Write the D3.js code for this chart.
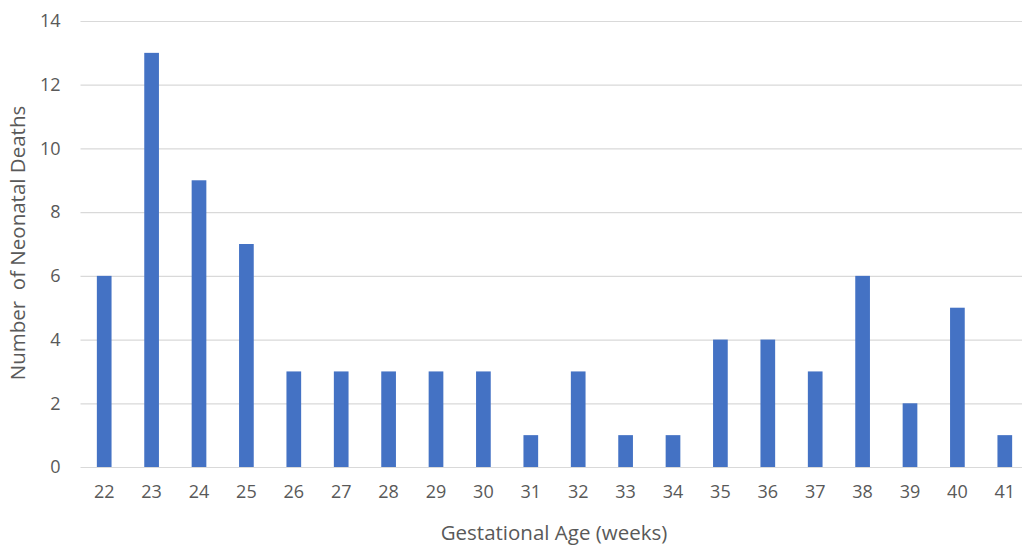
<!DOCTYPE html>
<html><head><meta charset="utf-8">
<script src="https://cdn.jsdelivr.net/npm/d3@7"></script>
<style>body{margin:0;background:#fff;}svg{display:block;}</style>
</head><body>
<svg id="chart" width="1022" height="546"></svg>
<script>
const categories = ["22","23","24","25","26","27","28","29","30","31","32","33","34","35","36","37","38","39","40","41"];
const deaths = [6,13,9,7,3,3,3,3,3,1,3,1,1,4,4,3,6,2,5,1];
const yTicks = [0,2,4,6,8,10,12,14];

(function(){
const svg = d3.select("#chart");
const mLeft = 80.5, mRight = 1028.5, mTop = 21, mBottom = 467;
const font = "'Open Sans', sans-serif";
const x = d3.scaleBand().domain(categories).range([mLeft, mRight]).paddingInner(0.69).paddingOuter(0.345);
const y = d3.scaleLinear().domain([0,14]).range([mBottom, mTop]);

const yAxis = svg.append("g").attr("transform", `translate(${mLeft},0)`)
  .call(d3.axisLeft(y).tickValues(yTicks).tickSize(-(mRight-mLeft)).tickPadding(20));
yAxis.select(".domain").remove();
yAxis.selectAll(".tick line").attr("stroke", "#d9d9d9").attr("stroke-width", 1.2);
yAxis.selectAll(".tick text").attr("fill", "#595959").style("font-family", font).style("font-size", "18px");

svg.append("g").selectAll("rect").data(deaths).join("rect")
  .attr("x", (d,i) => x(categories[i]))
  .attr("width", x.bandwidth())
  .attr("y", d => y(d))
  .attr("height", d => y(0) - y(d))
  .attr("fill", "#4472C4");

const xAxis = svg.append("g").attr("transform", `translate(0,${mBottom})`)
  .call(d3.axisBottom(x).tickSize(0).tickPadding(18));
xAxis.select(".domain").remove();
xAxis.selectAll(".tick text").attr("fill", "#595959").style("font-family", font).style("font-size", "18px");

svg.append("text").attr("x", 554).attr("y", 540).attr("text-anchor", "middle")
  .attr("fill", "#595959").style("font-family", font).style("font-size", "20.5px")
  .text("Gestational Age (weeks)");
svg.append("text").attr("transform", "translate(25,243) rotate(-90)").attr("text-anchor", "middle")
  .attr("fill", "#595959").style("font-family", font).style("font-size", "20.5px")
  .style("white-space", "pre")
  .text("Number  of Neonatal Deaths");
})();
</script>
</body></html>
